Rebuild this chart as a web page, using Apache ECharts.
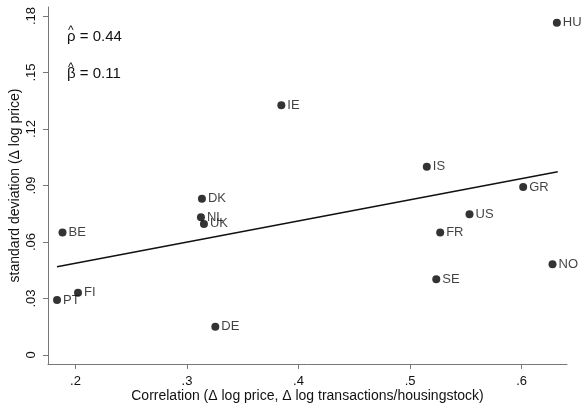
<!DOCTYPE html>
<html>
<head>
<meta charset="utf-8">
<script src="https://cdn.jsdelivr.net/npm/echarts@6/dist/echarts.min.js"></script>
<style>html,body{margin:0;padding:0;background:#fff}#c{width:584px;height:404px}</style>
</head>
<body>
<div id="c"></div>
<script>
const countries = ['HU','IS','GR','US','FR','NO','SE','IE','DK','NL','UK','BE','PT','FI','DE'];
const corrValues = [0.6316,0.515,0.6014,0.5533,0.527,0.6277,0.5235,0.3846,0.3134,0.3125,0.3152,0.1884,0.1835,0.2023,0.3254];
const sdValues = [0.1765,0.1000,0.0892,0.0747,0.0650,0.0482,0.0402,0.1326,0.0830,0.0731,0.0696,0.0650,0.0292,0.0331,0.0150];
const fitX = [0.1835,0.6324];
const fitY = [0.0469,0.0973];
const xTicks = [0.2,0.3,0.4,0.5,0.6];
const yTicks = [0,0.03,0.06,0.09,0.12,0.15,0.18];
const rhoText = 'ρ = 0.44';
const betaText = 'β = 0.11';

const fmt = (v, d) => { if (Math.abs(v) < 1e-9) return '0'; return v.toFixed(d).replace(/^0/, ''); };
const font = 'Liberation Sans, Arial, sans-serif';
const axisColor = '#777';
const txt = '#111';

const chart = echarts.init(document.getElementById('c'));
chart.setOption({
  animation: false,
  grid: {left: 48, right: 17, top: 7, bottom: 40, containLabel: false, outerBoundsMode: 'none'},
  xAxis: {
    type: 'value', min: 0.1754, max: 0.6407,
    name: 'Correlation (Δ log price, Δ log transactions/housingstock)',
    nameLocation: 'middle', nameGap: 25, nameMoveOverlap: false,
    nameTextStyle: {fontFamily: font, fontSize: 14, color: txt},
    axisLine: {show: true, onZero: false, lineStyle: {color: axisColor, width: 1}},
    axisTick: {show: true, length: 5, customValues: xTicks, lineStyle: {color: axisColor}},
    axisLabel: {customValues: xTicks, formatter: v => fmt(v, 1), fontFamily: font, fontSize: 13, color: txt, margin: 11},
    splitLine: {show: false}
  },
  yAxis: {
    type: 'value', min: -0.0048, max: 0.1848,
    name: 'standard deviation (Δ log price)',
    nameLocation: 'middle', nameGap: 26, nameMoveOverlap: false,
    nameTextStyle: {fontFamily: font, fontSize: 14, color: txt},
    axisLine: {show: true, onZero: false, lineStyle: {color: axisColor, width: 1}},
    axisTick: {show: true, length: 5, customValues: yTicks, lineStyle: {color: axisColor}},
    axisLabel: {customValues: yTicks, formatter: v => fmt(v, 2), rotate: 90, fontFamily: font, fontSize: 13, color: txt, margin: 10},
    splitLine: {show: false}
  },
  series: [
    {
      type: 'line',
      data: fitX.map((x, i) => [x, fitY[i]]),
      symbol: 'none',
      lineStyle: {color: '#111', width: 1.5},
      z: 2
    },
    {
      type: 'scatter',
      data: corrValues.map((x, i) => [x, sdValues[i], countries[i]]),
      symbol: 'circle', symbolSize: 8,
      itemStyle: {color: '#000'},
      label: {show: true, position: 'right', distance: 2, formatter: p => p.data[2], fontFamily: font, fontSize: 13, color: txt},
      z: 3
    }
  ],
  graphic: [
    {type: 'text', left: 68, top: 25, style: {text: '^', font: '12px ' + font, fill: txt}},
    {type: 'text', left: 67, top: 29, style: {text: rhoText, font: '15px ' + font, fill: txt}},
    {type: 'text', left: 68, top: 62, style: {text: '^', font: '12px ' + font, fill: txt}},
    {type: 'text', left: 67, top: 66, style: {text: betaText, font: '15px ' + font, fill: txt}}
  ]
});
</script>
</body>
</html>
